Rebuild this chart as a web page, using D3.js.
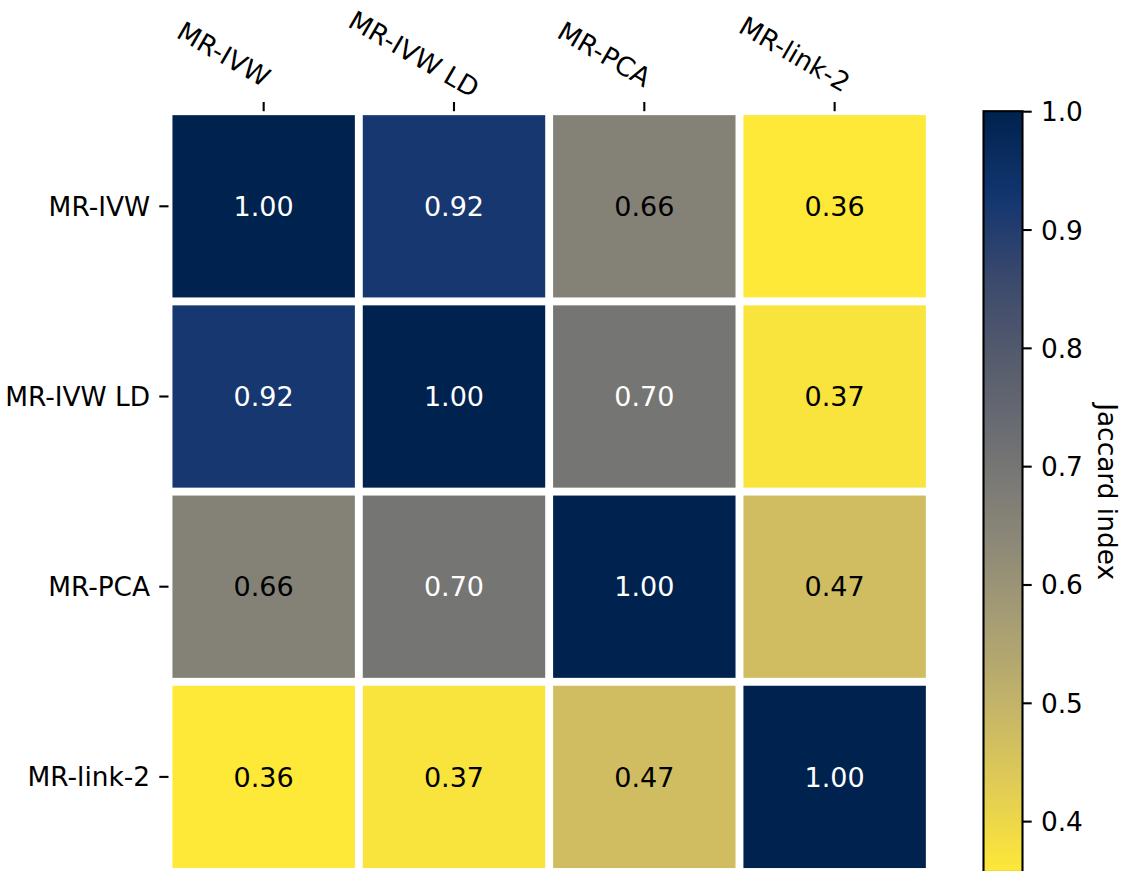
<!DOCTYPE html>
<html>
<head>
<meta charset="utf-8">
<script src="https://cdn.jsdelivr.net/npm/d3@7"></script>
<style>
  html, body { margin: 0; padding: 0; background: #fff; }
  svg { display: block; font-family: "DejaVu Sans", sans-serif; }
</style>
</head>
<body>
<svg id="chart" width="1123" height="871"></svg>
<script>
// ---- data ----
const methods = ["MR-IVW", "MR-IVW LD", "MR-PCA", "MR-link-2"];
const rowIVW   = [1.00, 0.92, 0.66, 0.357];
const rowIVWLD = [0.92, 1.00, 0.70, 0.37];
const rowPCA   = [0.66, 0.70, 1.00, 0.47];
const rowLink2 = [0.357, 0.37, 0.47, 1.00];
const colorbarTicks = [0.4, 0.5, 0.6, 0.7, 0.8, 0.9, 1.0];
const colorbarLabel = "Jaccard index";
// cividis colormap reference stops (low -> high)
const cividisStops = ["#00224e", "#123570", "#3b496c", "#575d6d", "#707173",
                      "#8a8678", "#a59c74", "#c3b369", "#e1cc55", "#fee838"];

const rows = [rowIVW, rowIVWLD, rowPCA, rowLink2];
const cells = [];
rows.forEach((r, i) => r.forEach((v, j) => cells.push({ row: methods[i], col: methods[j], v })));

const vmin = d3.min(cells, d => d.v), vmax = d3.max(cells, d => d.v);
const cividis = d3.piecewise(d3.interpolateRgb, cividisStops);
// reversed cividis: high values dark blue, low values yellow
const color = v => cividis(1 - (v - vmin) / (vmax - vmin));

// ---- layout ----
const plotL = 168.5, plotR = 929.8, plotT = 111.2, plotB = 872;
const gap = 7.9;
const FS = 26.4;
const tickLen = 9.2, tickW = 2.1;

const svg = d3.select("#chart");

const x = d3.scaleBand().domain(methods).range([plotL, plotR]);
const y = d3.scaleBand().domain(methods).range([plotT, plotB]);

// cells
svg.append("g").selectAll("rect").data(cells).join("rect")
  .attr("x", d => x(d.col) + gap / 2)
  .attr("y", d => y(d.row) + gap / 2)
  .attr("width", x.bandwidth() - gap)
  .attr("height", y.bandwidth() - gap)
  .attr("fill", d => color(d.v));

// annotations
svg.append("g").selectAll("text").data(cells).join("text")
  .attr("x", d => x(d.col) + x.bandwidth() / 2)
  .attr("y", d => y(d.row) + y.bandwidth() / 2)
  .attr("text-anchor", "middle")
  .attr("dy", "0.36em")
  .attr("font-size", 27)
  .attr("fill", d => d.v > 0.68 ? "#ffffff" : "#000000")
  .text(d => d3.format(".2f")(d.v));

// top axis
const gx = svg.append("g").attr("transform", `translate(0,${plotT})`)
  .call(d3.axisTop(x).tickSize(tickLen).tickSizeOuter(0));
gx.select(".domain").remove();
gx.selectAll(".tick line").attr("stroke", "#000").attr("stroke-width", tickW);
gx.selectAll(".tick text")
  .attr("x", 0).attr("y", 0).attr("dy", "0.35em")
  .attr("text-anchor", "middle")
  .attr("font-size", FS)
  .attr("fill", "#000")
  .attr("font-family", "DejaVu Sans")
  .attr("transform", "translate(-40,-57) rotate(30)");

// left axis
const gy = svg.append("g").attr("transform", `translate(${plotL},0)`)
  .call(d3.axisLeft(y).tickSize(tickLen).tickPadding(tickLen).tickSizeOuter(0));
gy.select(".domain").remove();
gy.selectAll(".tick line").attr("stroke", "#000").attr("stroke-width", tickW);
gy.selectAll(".tick text")
  .attr("font-size", FS)
  .attr("fill", "#000")
  .attr("font-family", "DejaVu Sans")
  .attr("dy", "0.36em");

// colorbar
const cbX = 983.5, cbW = 39;
const cScale = d3.scaleLinear().domain([vmin, vmax]).range([plotB, plotT]);

const defs = svg.append("defs");
const grad = defs.append("linearGradient").attr("id", "cbgrad")
  .attr("x1", 0).attr("y1", 1).attr("x2", 0).attr("y2", 0);
d3.range(0, 1.0001, 0.02).forEach(t => {
  grad.append("stop").attr("offset", t).attr("stop-color", color(vmin + t * (vmax - vmin)));
});
svg.append("rect")
  .attr("x", cbX).attr("y", cScale(vmax))
  .attr("width", cbW).attr("height", cScale(vmin) - cScale(vmax))
  .attr("fill", "url(#cbgrad)")
  .attr("stroke", "#000").attr("stroke-width", tickW);

const gc = svg.append("g").attr("transform", `translate(${cbX + cbW},0)`)
  .call(d3.axisRight(cScale).tickValues(colorbarTicks).tickFormat(d3.format(".1f"))
    .tickSize(tickLen).tickPadding(tickLen).tickSizeOuter(0));
gc.select(".domain").remove();
gc.selectAll(".tick line").attr("stroke", "#000").attr("stroke-width", tickW);
gc.selectAll(".tick text")
  .attr("font-size", FS)
  .attr("fill", "#000")
  .attr("font-family", "DejaVu Sans")
  .attr("dy", "0.36em");

svg.append("text")
  .attr("transform", `translate(1098,${(plotT + plotB) / 2}) rotate(90)`)
  .attr("text-anchor", "middle")
  .attr("font-size", FS)
  .attr("fill", "#000")
  .text(colorbarLabel);
</script>
</body>
</html>
